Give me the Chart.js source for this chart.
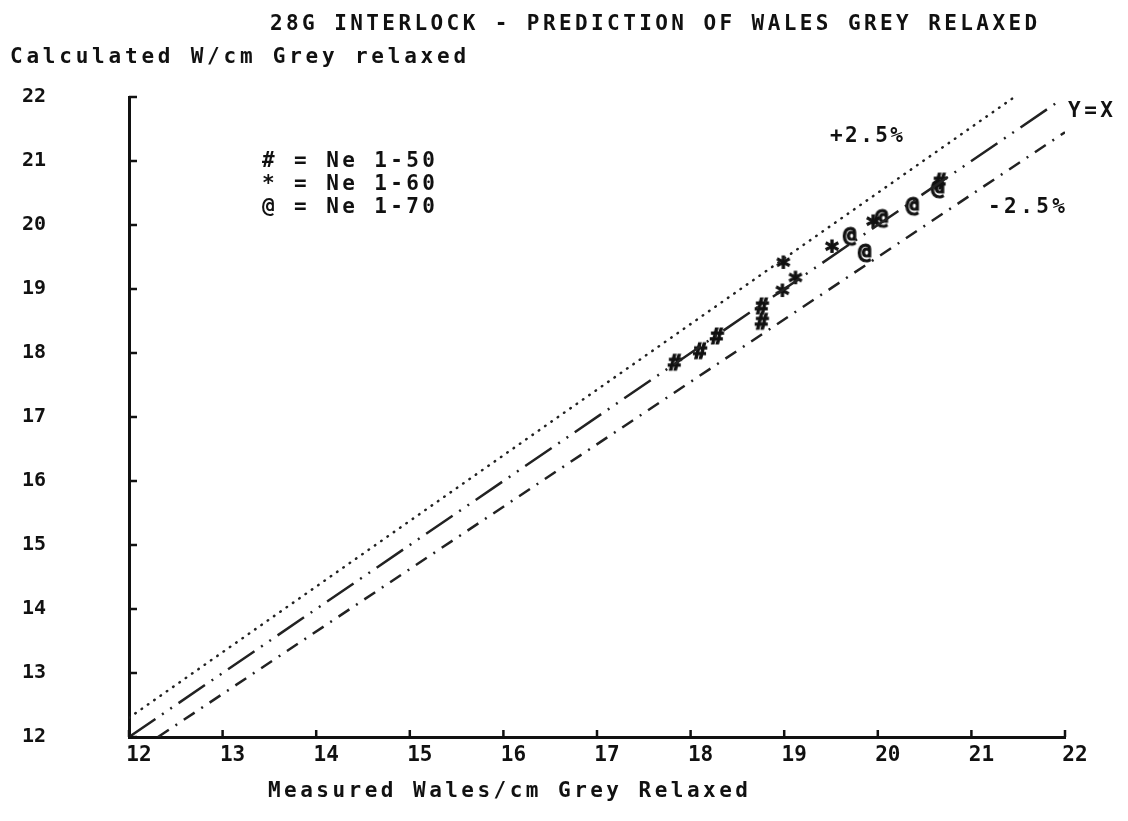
<!DOCTYPE html>
<html>
<head>
<meta charset="utf-8">
<script src="https://cdn.jsdelivr.net/npm/chart.js@4/dist/chart.umd.min.js"></script>
<style>
  html, body { margin: 0; padding: 0; background: #fff; }
  #wrap { width: 1128px; height: 821px; position: relative; }
</style>
</head>
<body>
<div id="wrap"><canvas id="chart" width="1128" height="821"></canvas></div>
<script>
// measured vs calculated wales/cm
const ne50X = [17.83, 18.10, 18.28, 18.76, 18.76, 20.66];
const ne50Y = [17.84, 18.02, 18.25, 18.72, 18.48, 20.67];
const ne60X = [18.98, 19.12, 18.99, 19.51, 19.95];
const ne60Y = [18.89, 19.09, 19.33, 19.58, 19.97];
const ne70X = [19.70, 19.86, 20.04, 20.37, 20.64];
const ne70Y = [19.84, 19.58, 20.12, 20.31, 20.58];

// reference lines (end points)
const plusX = [12, 21.46];
const plusY = [12.3, 22];
const equalX = [12, 21.9];
const equalY = [12, 21.9];
const minusX = [12.31, 22];
const minusY = [12, 21.45];

const axisTicks = [12, 13, 14, 15, 16, 17, 18, 19, 20, 21, 22];

const legendLines = ['# = Ne 1-50', '* = Ne 1-60', '@ = Ne 1-70'];
const titleText = '28G INTERLOCK - PREDICTION OF WALES GREY RELAXED';
const yTitleText = 'Calculated W/cm Grey relaxed';
const xTitleText = 'Measured Wales/cm Grey Relaxed';

const MONO = '"DejaVu Sans Mono", "Liberation Mono", monospace';

function pairUp(xs, ys) {
    return xs.map((x, i) => ({ x: x, y: ys[i] }));
}

function makeMarker(ch, size) {
    const c = document.createElement('canvas');
    c.width = 26;
    c.height = 28;
    const g = c.getContext('2d');
    g.fillStyle = '#111';
    g.strokeStyle = '#111';
    g.lineWidth = 1.2;
    g.font = 'bold ' + size + 'px ' + MONO;
    g.textAlign = 'center';
    g.textBaseline = 'middle';
    g.fillText(ch, 13, 15);
    g.strokeText(ch, 13, 15);
    return c;
}

// draw text stretched by letter spacing so it spans a given width
function spacedText(ctx, text, x, y, width) {
    ctx.letterSpacing = '0px';
    const w = ctx.measureText(text).width;
    const gap = Math.max(0, (width - w) / (text.length - 1));
    ctx.letterSpacing = gap.toFixed(2) + 'px';
    ctx.fillText(text, x, y);
    ctx.letterSpacing = '0px';
}

const textPlugin = {
    id: 'plotterText',
    afterDraw(chart) {
        const ctx = chart.ctx;
        const xs = chart.scales.x;
        const ys = chart.scales.y;
        const area = chart.chartArea;

        // tick marks point into the plot
        ctx.save();
        ctx.strokeStyle = '#111';
        ctx.lineWidth = 2.5;
        axisTicks.forEach(v => {
            const px = xs.getPixelForValue(v);
            ctx.beginPath();
            ctx.moveTo(px, area.bottom);
            ctx.lineTo(px, area.bottom - 7);
            ctx.stroke();
            const py = ys.getPixelForValue(v);
            ctx.beginPath();
            ctx.moveTo(area.left, py);
            ctx.lineTo(area.left + 8, py);
            ctx.stroke();
        });
        ctx.restore();

        ctx.save();
        ctx.fillStyle = '#111';
        ctx.textBaseline = 'middle';
        ctx.textAlign = 'left';
        ctx.font = 'bold 21px ' + MONO;
        spacedText(ctx, titleText, 270, 25, 767);
        spacedText(ctx, yTitleText, 10, 58, 456);
        spacedText(ctx, xTitleText, 268, 792, 480);

        legendLines.forEach((t, i) => {
            spacedText(ctx, t, 262, 162 + i * 23, 173);
        });
        spacedText(ctx, '+2.5%', 830, 137, 73);
        spacedText(ctx, '-2.5%', 988, 208, 77);
        spacedText(ctx, 'Y=X', 1068, 112, 45);
        ctx.restore();
    }
};

const ctx = document.getElementById('chart').getContext('2d');

new Chart(ctx, {
    type: 'scatter',
    data: {
        datasets: [
            {
                data: pairUp(plusX, plusY),
                showLine: true,
                borderColor: '#222',
                borderWidth: 2.5,
                borderDash: [0.5, 7.2],
                borderCapStyle: 'round',
                pointRadius: 0
            },
            {
                data: pairUp(equalX, equalY),
                showLine: true,
                borderColor: '#222',
                borderWidth: 2.5,
                borderDash: [32, 8, 2, 8, 2, 8],
                pointRadius: 0
            },
            {
                data: pairUp(minusX, minusY),
                showLine: true,
                borderColor: '#222',
                borderWidth: 2.5,
                borderDash: [13, 8, 2, 8],
                pointRadius: 0
            },
            {
                data: pairUp(ne50X, ne50Y),
                pointStyle: makeMarker('#', 22),
                pointRadius: 10
            },
            {
                data: pairUp(ne60X, ne60Y),
                pointStyle: makeMarker('*', 26),
                pointRadius: 10
            },
            {
                data: pairUp(ne70X, ne70Y),
                pointStyle: makeMarker('@', 22),
                pointRadius: 10
            }
        ]
    },
    options: {
        responsive: false,
        animation: false,
        layout: {
            padding: { left: 22, top: 97, right: 63, bottom: 44 }
        },
        plugins: {
            legend: { display: false },
            tooltip: { enabled: false },
            title: { display: false }
        },
        scales: {
            x: {
                type: 'linear',
                min: 12,
                max: 22,
                afterFit(s) { s.height = 40; },
                afterBuildTicks(s) { s.ticks = axisTicks.map(v => ({ value: v })); },
                grid: { display: false, drawTicks: false },
                border: { display: true, color: '#111', width: 3 },
                ticks: {
                    color: '#111',
                    font: { family: MONO, size: 21, weight: 'bold' },
                    padding: 6,
                    labelOffset: 10,
                    maxRotation: 0
                }
            },
            y: {
                type: 'linear',
                min: 12,
                max: 22,
                afterFit(s) { s.width = 107; },
                afterBuildTicks(s) { s.ticks = axisTicks.map(v => ({ value: v })); },
                grid: { display: false, drawTicks: false },
                border: { display: true, color: '#111', width: 3 },
                ticks: {
                    color: '#111',
                    font: { family: MONO, size: 20, weight: 'bold' },
                    crossAlign: 'far',
                    padding: 4
                }
            }
        }
    },
    plugins: [textPlugin]
});
</script>
</body>
</html>
